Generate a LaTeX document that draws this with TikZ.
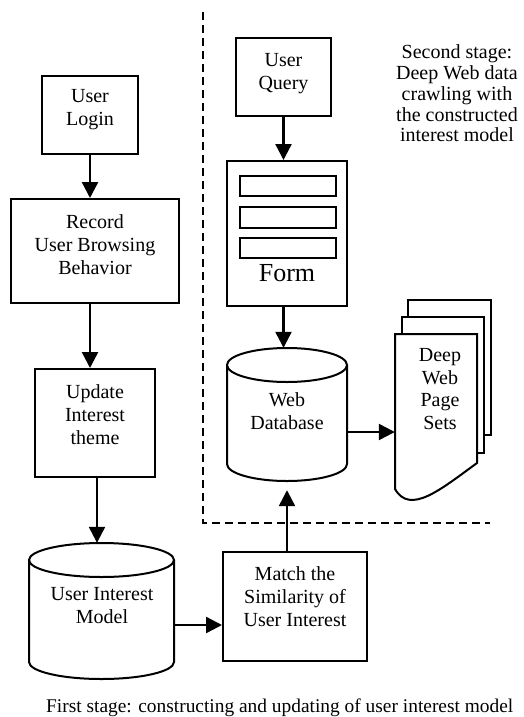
\documentclass[tikz,border=0pt]{standalone}
\usepackage{fontspec}
\setmainfont{Liberation Serif}
\usetikzlibrary{arrows.meta}
\begin{document}
\begin{tikzpicture}[x=1pt,y=-1pt,
  box/.style={draw, line width=2pt, fill=white, inner sep=0pt},
  field/.style={draw, line width=1.8pt, inner sep=0pt, minimum width=96pt},
  frame/.style={inner sep=0pt},
  shapeline/.style={line width=2pt, fill=white},
  txt/.style={align=center, inner sep=0pt, font=\fontsize{20pt}{23pt}\selectfont},
  arr/.style={line width=2.4pt, -{Triangle[length=16pt 0 0,width=16pt 0 0]}},
  stageline/.style={line width=2pt, dash pattern=on 8pt off 5pt}]
\clip (0,0) rectangle (524,717);
\fill[white] (0,0) rectangle (524,717);

% ---- first stage: left column ----
\node[box, minimum width=96pt, minimum height=78pt] (login) at (90,115) {};
\node[txt] (tlogin) at (90,110) {User\\Login};

\node[box, minimum width=168pt, minimum height=104pt] (record) at (95,251) {};
\node[txt] (trecord) at (95,245) {Record\\User Browsing\\Behavior};

\node[box, minimum width=120pt, minimum height=108pt] (update) at (95,423) {};
\node[txt] (tupdate) at (95,415) {Update\\Interest\\theme};

% user interest model (cylinder)
\node[frame, minimum width=145pt, minimum height=136pt] (uim) at (101.5,611) {};
\draw[shapeline] (29,560) -- (29,662)
  arc[start angle=180, end angle=360, x radius=72.5pt, y radius=17pt] -- (174,560);
\draw[shapeline] (101.5,560) ellipse [x radius=72.5pt, y radius=17pt];
\node[txt] (tuim) at (102,606) {User Interest\\Model};

\node[box, minimum width=144pt, minimum height=109pt] (match) at (295,606.5) {};
\node[txt] (tmatch) at (295,597) {Match the\\Similarity of\\User Interest};

% ---- second stage ----
\node[box, minimum width=95pt, minimum height=78pt] (query) at (283.5,77) {};
\node[txt] (tquery) at (283.5,73.5) {User\\Query};

\node[box, minimum width=120pt, minimum height=145pt] (form) at (287,233.5) {};
\node[field, minimum height=20pt] (f1) at (288,186) {};
\node[field, minimum height=21pt] (f2) at (288,217.5) {};
\node[field, minimum height=20pt] (f3) at (288,248) {};
\node[txt, font=\fontsize{26pt}{28pt}\selectfont] (tform) at (287,273) {Form};

% web database (cylinder)
\node[frame, minimum width=120pt, minimum height=133pt] (webdb) at (287,414.5) {};
\draw[shapeline] (227,365) -- (227,464)
  arc[start angle=180, end angle=360, x radius=60pt, y radius=17pt] -- (347,365);
\draw[shapeline] (287,365) ellipse [x radius=60pt, y radius=17pt];
\node[txt] (twebdb) at (287,411) {Web\\Database};

% stacked document pages
\draw[shapeline] (408,300) rectangle (491,435);
\draw[shapeline] (402,317) rectangle (484,453);
\node[frame, minimum width=82pt, minimum height=155pt] (docs) at (436,411.5) {};
\draw[shapeline] (395,334) -- (395,489)
  .. controls (410,515) and (440,490) .. (477,463) -- (477,334) -- cycle;
\node[txt, font=\fontsize{20pt}{22.7pt}\selectfont] (tdocs) at (440,389) {Deep\\Web\\Page\\Sets};

\node[txt, font=\fontsize{20pt}{20.8pt}\selectfont] (tstage2) at (457,93.5)
  {Second stage:\\Deep Web data\\crawling with\\the constructed\\interest model};

% stage separator
\coordinate (dtop) at (203,12);
\coordinate (dcorner) at (203,523);
\coordinate (dend) at (490,523);
\draw[stageline] (dtop) -- (dcorner) -- (dend);

% ---- connectors ----
\draw[arr] (login.south) -- (login.south |- record.north);
\draw[arr] (record.south -| login.south) -- (update.north -| login.south);
\draw[arr] ([xshift=2pt]update.south) -- ([xshift=2pt]update.south |- uim.north);
\draw[arr] ([yshift=-14pt]uim.east) -- ([yshift=-14pt]uim.east -| match.west);
\draw[arr] (match.north -| webdb.south) -- ([yshift=-9pt]webdb.south);
\draw[arr] (query.south) -- (query.south |- form.north);
\draw[arr] (form.south -| query.south) -- (query.south |- webdb.north);
\draw[arr] ([yshift=-17.5pt]webdb.east) -- ([yshift=-17.5pt]webdb.east -| docs.west);

\node[txt, anchor=west, font=\fontsize{19.4pt}{22pt}\selectfont] (caption) at (46,708)
  {First stage: constructing and updating of user interest model};
\end{tikzpicture}
\end{document}
